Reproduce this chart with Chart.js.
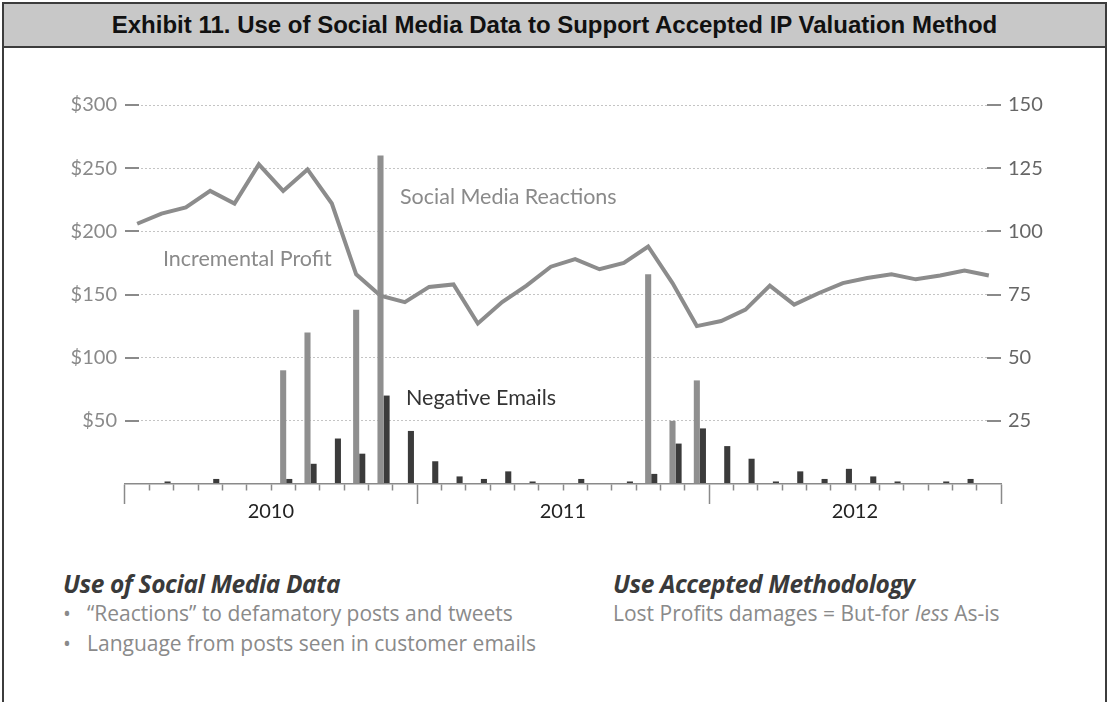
<!DOCTYPE html>
<html lang="en">
<head>
<meta charset="UTF-8" />
<title>Exhibit 11</title>
<script src="https://cdn.jsdelivr.net/npm/chart.js"></script>
<style>
  body { margin: 0; width: 1111px; height: 702px; background: #fff; position: relative; overflow: hidden; font-family: Lato, sans-serif; }
  #frame { position: absolute; left: 2px; top: 2px; width: 1105px; height: 720px; border: 2px solid #3c3c3c; box-sizing: border-box; }
  #title { position: absolute; left: 2px; top: 2px; width: 1105px; height: 46px; background: #c8c8c8; border: 2px solid #3c3c3c; box-sizing: border-box;
           font: bold 24px "Liberation Sans", Arial, sans-serif; color: #111; text-align: center; line-height: 42px; }
  #wrap { position: absolute; left: 0; top: 0; width: 1111px; height: 560px; }
  .note { position: absolute; font-size: 21.5px; line-height: 26px; white-space: nowrap; color: #8a8a8a; }
  .head { position: absolute; font-family: "Open Sans", sans-serif; font-size: 24.5px; line-height: 30px; font-weight: bold; font-style: italic; color: #3a3a3a; white-space: nowrap; letter-spacing: -0.4px; }
  .body { position: absolute; font-family: "Open Sans", sans-serif; font-size: 21px; line-height: 26px; color: #8a8a8a; white-space: nowrap; }
  .dot { display: inline-block; width: 24px; }
</style>
</head>
<body>
<div id="frame"></div>
<div id="title">Exhibit 11. Use of Social Media Data to Support Accepted IP Valuation Method</div>
<div id="wrap"><canvas id="myChart" width="1111" height="560"></canvas></div>

<div class="note" style="left:400px; top:183px;">Social Media Reactions</div>
<div class="note" style="left:163px; top:245px;">Incremental Profit</div>
<div class="note" style="left:406px; top:384px; color:#333;">Negative Emails</div>

<div class="head" style="left:63px; top:569px;">Use of Social Media Data</div>
<div class="body" style="left:63px; top:600px;"><span class="dot">•</span>“Reactions” to defamatory posts and tweets</div>
<div class="body" style="left:63px; top:630px;"><span class="dot">•</span>Language from posts seen in customer emails</div>
<div class="head" style="left:613px; top:569px;">Use Accepted Methodology</div>
<div class="body" style="left:613px; top:600px;">Lost Profits damages = But-for <i>less</i> As-is</div>

<script>
    // years and months on the x axis
    const years = ["2010", "2011", "2012"];
    const monthNames = ["Jan", "Feb", "Mar", "Apr", "May", "Jun", "Jul", "Aug", "Sep", "Oct", "Nov", "Dec"];
    const months = years.flatMap((y) => monthNames.map((m) => m + " " + y));

    // Incremental Profit ($, left axis)
    const profit = [
        206, 214, 219, 232, 222, 253, 232, 249, 222, 166, 149, 144,
        156, 158, 127, 144, 157, 172, 178, 170, 175, 188, 159, 125,
        129, 138, 157, 142, 151, 159, 163, 166, 162, 165, 169, 165,
    ];

    // Social Media Reactions (count, right axis)
    const reactions = [
        0, 0, 0, 0, 0, 0, 45, 60, 0, 69, 130, 0,
        0, 0, 0, 0, 0, 0, 0, 0, 0, 83, 25, 41,
        0, 0, 0, 0, 0, 0, 0, 0, 0, 0, 0, 0,
    ];

    // Negative Emails (count, right axis)
    const emails = [
        0, 1, 0, 2, 0, 0, 2, 8, 18, 12, 35, 21,
        9, 3, 2, 5, 1, 0, 2, 0, 1, 4, 16, 22,
        15, 10, 1, 5, 2, 6, 3, 1, 0, 1, 2, 0,
    ];

    const tickFont = { family: "Lato", size: 20 };

    var ctx = document.getElementById("myChart").getContext("2d");
    var myChart = new Chart(ctx, {
        type: "bar",
        data: {
            labels: months,
            datasets: [
                {
                    type: "line",
                    label: "Incremental Profit",
                    data: profit,
                    yAxisID: "y",
                    borderColor: "#8c8c8c",
                    borderWidth: 4,
                    pointRadius: 0,
                    tension: 0,
                    fill: false,
                    order: 0,
                },
                {
                    // empty slot so the pair sits right of the month centre
                    label: "",
                    data: [],
                    yAxisID: "y1",
                    backgroundColor: "transparent",
                    order: 1,
                },
                {
                    label: "Social Media Reactions",
                    data: reactions,
                    yAxisID: "y1",
                    backgroundColor: "#8f8f8f",
                    order: 1,
                },
                {
                    label: "Negative Emails",
                    data: emails,
                    yAxisID: "y1",
                    backgroundColor: "#3b3b3b",
                    order: 1,
                },
            ],
        },
        options: {
            responsive: false,
            animation: false,
            categoryPercentage: 0.75,
            barPercentage: 1,
            layout: { padding: { top: 105, bottom: 26, left: 0, right: 0 } },
            plugins: {
                legend: { display: false },
                tooltip: { enabled: false },
            },
            scales: {
                x: {
                    offset: true,
                    grid: {
                        drawOnChartArea: false,
                        offset: true,
                        tickLength: 20,
                        tickColor: "#8a8a8a",
                        tickWidth: 1.5,
                        tickBorderDash: (c) =>
                            c.index === undefined || c.index % 12 === 0 ? [] : [6, 40],
                    },
                    border: { display: true, color: "#8a8a8a", width: 1.5 },
                    ticks: {
                        autoSkip: false,
                        maxRotation: 0,
                        labelOffset: 12,
                        padding: -4,
                        color: "#222",
                        font: { family: "Lato", size: 20 },
                        callback: (v, i) => (i % 12 === 5 ? years[Math.floor(i / 12)] : ""),
                    },
                    afterFit: (s) => { s.height = 50; },
                },
                y: {
                    position: "left",
                    min: 0,
                    max: 300,
                    ticks: {
                        stepSize: 50,
                        padding: 8,
                        color: "#8a8a8a",
                        font: tickFont,
                        callback: (v) => (v === 0 ? "" : "$" + v),
                    },
                    grid: {
                        drawTicks: false,
                        lineWidth: 1,
                        color: (c) => (c.tick && c.tick.value === 0 ? "transparent" : "#c4c4c4"),
                    },
                    border: { display: false, dash: [2, 2] },
                    afterFit: (s) => { s.width = 125; },
                },
                y1: {
                    position: "right",
                    min: 0,
                    max: 150,
                    ticks: {
                        stepSize: 25,
                        padding: 7,
                        color: "#666",
                        font: tickFont,
                        callback: (v) => (v === 0 ? "" : v),
                    },
                    grid: {
                        drawTicks: false,
                        lineWidth: 2,
                        color: (c) => (c.tick && c.tick.value === 0 ? "transparent" : "#8a8a8a"),
                    },
                    // short solid caps at both ends of each gridline
                    border: { display: false, dash: [14, 848, 14] },
                    afterFit: (s) => { s.width = 110; },
                },
            },
        },
    });
</script>
</body>
</html>
